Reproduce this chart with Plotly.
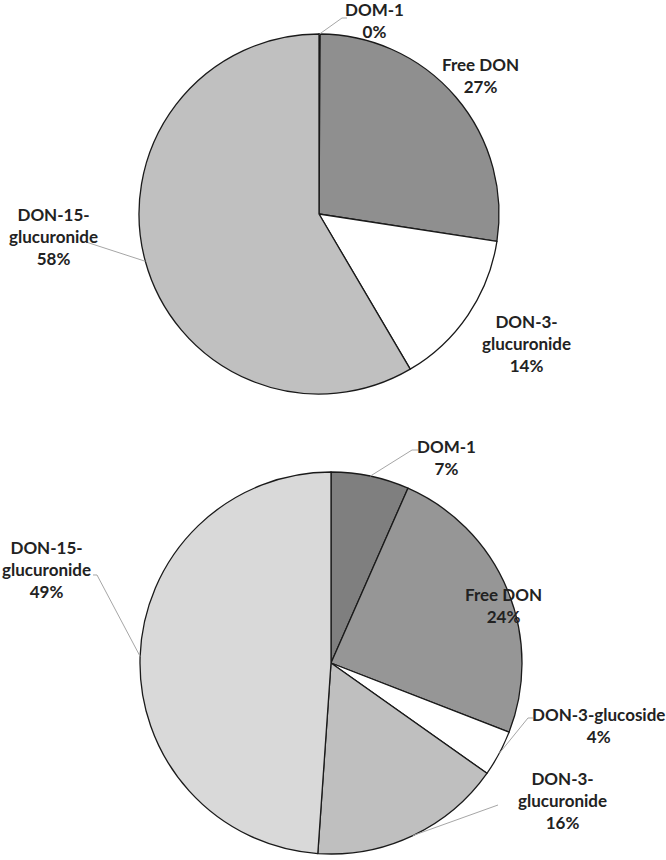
import math
import plotly.graph_objects as go

W, H = 666, 860

# ---------------- data ----------------
top_labels = ["DOM-1", "Free DON", "DON-3-glucuronide", "DON-15-glucuronide"]
top_values = [0.1, 27.3, 14.1, 58.4]
top_colors = ["#7f7f7f", "#8f8f8f", "#ffffff", "#c0c0c0"]
top_text = ["DOM-1", "Free DON", "DON-3-<br>glucuronide", "DON-15-<br>glucuronide"]

bot_labels = ["DOM-1", "Free DON", "DON-3-glucoside", "DON-3-glucuronide", "DON-15-glucuronide"]
bot_values = [6.6, 24.3, 3.9, 16.3, 48.9]
bot_colors = ["#7f7f7f", "#969696", "#ffffff", "#bfbfbf", "#d9d9d9"]
bot_text = ["DOM-1", "Free DON", "DON-3-glucoside", "DON-3-<br>glucuronide", "DON-15-<br>glucuronide"]

# ---------------- layout specs (pixels) ----------------
TOP = dict(cx=319, cy=214, r=180)
BOT = dict(cx=331, cy=663, r=191)

# label centre positions and leader-line elbows (None = no leader)
top_label_pos = [(374, 21), (480, 75), (526, 343), (53, 237)]
top_leaders = [[(342, 18), (347, 18)], None, None, [(86, 242)]]
bot_label_pos = [(446, 457), (503, 605), (598, 725), (562, 800), (46, 569)]
bot_leaders = [[(412, 450), (418, 450)], None, [(528, 718), (533, 718)], [(498, 805)],
               [(97, 575), (93, 575)]]

FONT = "Lato, 'Open Sans', sans-serif"


def px(x):
    return x / W


def py(y):
    return 1 - y / H


def domain(spec):
    cx, cy, r = spec["cx"], spec["cy"], spec["r"]
    return dict(x=[px(cx - r), px(cx + r)], y=[py(cy + r), py(cy - r)])


def edge_point(spec, values, i):
    tot = sum(values)
    frac = (sum(values[:i]) + values[i] / 2) / tot
    th = 2 * math.pi * frac
    return (spec["cx"] + spec["r"] * math.sin(th), spec["cy"] - spec["r"] * math.cos(th))


fig = go.Figure()
for spec, labels, values, colors in [(TOP, top_labels, top_values, top_colors),
                                      (BOT, bot_labels, bot_values, bot_colors)]:
    fig.add_trace(go.Pie(
        labels=labels, values=values, sort=False, direction="clockwise", rotation=0,
        marker=dict(colors=colors, line=dict(color="#1a1a1a", width=1.3)),
        textinfo="none", hoverinfo="label+percent", showlegend=False,
        domain=domain(spec),
    ))

annotations = []
shapes = []
for spec, values, texts, lpos, leaders in [(TOP, top_values, top_text, top_label_pos, top_leaders),
                                           (BOT, bot_values, bot_text, bot_label_pos, bot_leaders)]:
    tot = sum(values)
    for i, v in enumerate(values):
        pct = round(v / tot * 100)
        x, y = lpos[i]
        annotations.append(dict(
            x=px(x), y=py(y), xref="paper", yref="paper", xanchor="center", yanchor="middle",
            showarrow=False, align="center",
            text=f"<b>{texts[i]}<br>{pct}%</b>",
            font=dict(family=FONT, size=17, color="#222222"),
        ))
        if leaders[i]:
            pts = [edge_point(spec, values, i)] + leaders[i]
            path = "M " + " L ".join(f"{px(a):.5f},{py(b):.5f}" for a, b in pts)
            shapes.append(dict(type="path", xref="paper", yref="paper", path=path,
                               line=dict(color="#a6a6a6", width=1)))

fig.update_layout(
    width=W, height=H, margin=dict(l=0, r=0, t=0, b=0),
    paper_bgcolor="white", plot_bgcolor="white",
    annotations=annotations, shapes=shapes,
)

fig.write_html("out.html", config={"displayModeBar": False},
               post_script="document.body.style.margin='0';document.body.style.overflow='hidden';")
